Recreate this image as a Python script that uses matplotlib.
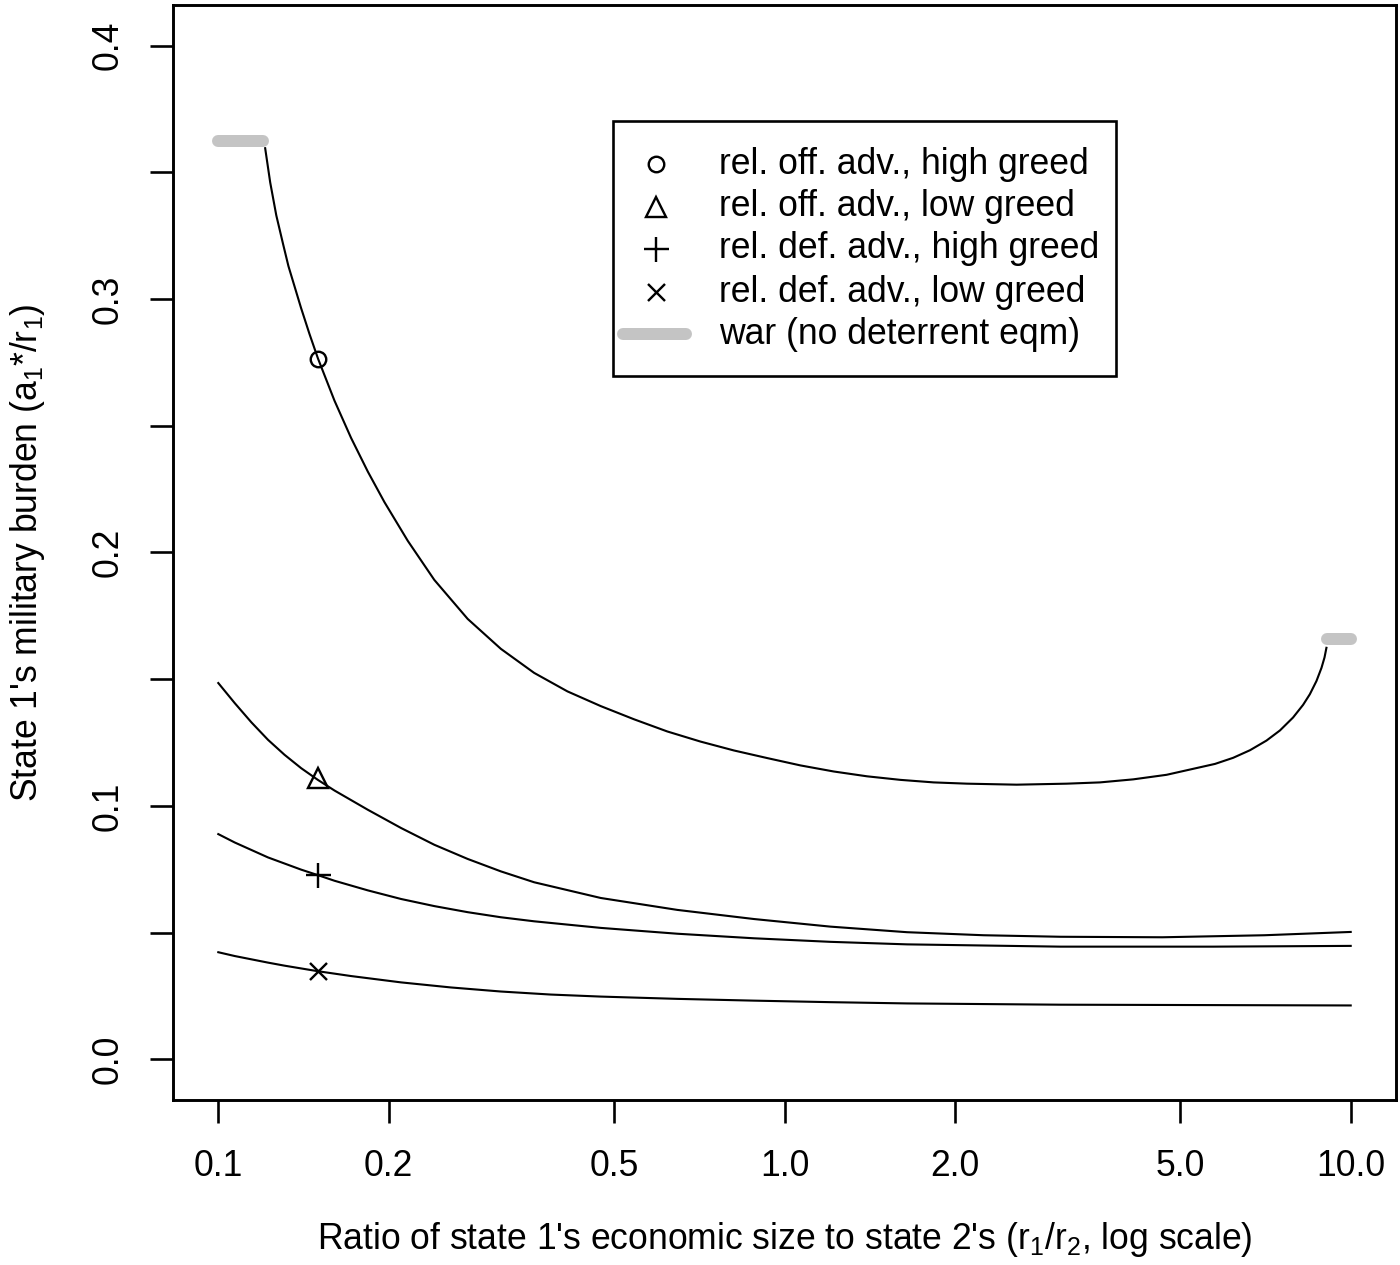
import matplotlib
matplotlib.use("Agg")
import matplotlib.pyplot as plt
from matplotlib.patches import Rectangle

plt.rcParams['font.family'] = ['Liberation Sans', 'DejaVu Sans']
plt.rcParams['mathtext.fontset'] = 'custom'
plt.rcParams['mathtext.rm'] = 'Liberation Sans'
plt.rcParams['mathtext.it'] = 'Liberation Sans:italic'

# ---------------- data ----------------
off_high_x = [0.121, 0.1235, 0.1266, 0.1302, 0.1330, 0.140, 0.1449, 0.150, 0.1604, 0.1716,
              0.1837, 0.1965, 0.2161, 0.2407, 0.2757, 0.3155, 0.3613, 0.4137, 0.4737, 0.5423,
              0.6208, 0.7108, 0.814, 0.932, 1.067, 1.222, 1.399, 1.602, 1.834, 2.100,
              2.57, 3.152, 3.607, 4.13, 4.73, 5.76, 6.20, 6.64, 7.10, 7.50,
              7.91, 8.24, 8.47, 8.70, 8.88, 8.99, 9.06]
off_high_y = [0.3595, 0.3460, 0.3330, 0.3215, 0.3130, 0.2965, 0.2862, 0.2765, 0.2599, 0.2452,
              0.2319, 0.2199, 0.2046, 0.1892, 0.1738, 0.1620, 0.1525, 0.1452, 0.1394, 0.1342,
              0.1294, 0.1254, 0.1219, 0.1189, 0.1160, 0.1136, 0.1117, 0.1103, 0.1093, 0.1088,
              0.1084, 0.1088, 0.1093, 0.1105, 0.1123, 0.1166, 0.1190, 0.1220, 0.1258, 0.1298,
              0.1349, 0.1399, 0.1441, 0.1493, 0.1545, 0.1586, 0.1624]

off_low_x = [0.1, 0.1069, 0.1144, 0.1224, 0.1309, 0.1401, 0.1499, 0.1604, 0.1837, 0.2103,
             0.2407, 0.2757, 0.3155, 0.3613, 0.4737, 0.6466, 0.883, 1.205, 1.646, 2.247,
             3.07, 4.65, 7.04, 10.0]
off_low_y = [0.1485, 0.1406, 0.1330, 0.1261, 0.1202, 0.1149, 0.1103, 0.1061, 0.0985, 0.0913,
             0.0847, 0.0791, 0.0742, 0.0699, 0.0637, 0.0590, 0.0554, 0.0524, 0.0502, 0.0490,
             0.0484, 0.0482, 0.0490, 0.0503]

def_high_x = [0.1, 0.1069, 0.1224, 0.140, 0.15, 0.1604, 0.1837, 0.2103, 0.2407, 0.2757,
              0.3155, 0.3613, 0.4737, 0.6466, 0.883, 1.205, 1.646, 3.07, 5.72, 10.0]
def_high_y = [0.0889, 0.0856, 0.0797, 0.0749, 0.0727, 0.0705, 0.0667, 0.0633, 0.0605, 0.0581,
              0.0561, 0.0545, 0.0519, 0.0496, 0.0478, 0.0464, 0.0454, 0.0445, 0.0445, 0.0448]

def_low_x = [0.1, 0.1069, 0.1224, 0.1309, 0.15, 0.1716, 0.2103, 0.2576, 0.3155, 0.3866,
             0.4737, 0.6466, 0.883, 1.205, 1.646, 3.07, 10.0]
def_low_y = [0.0423, 0.0408, 0.0382, 0.0370, 0.0348, 0.0329, 0.0304, 0.0284, 0.0268, 0.0256,
             0.0248, 0.0239, 0.0232, 0.0226, 0.0221, 0.0216, 0.0213]

marker_x = [0.15, 0.15, 0.15, 0.15]
marker_y = [0.2765, 0.1110, 0.0727, 0.0348]

war_left_x = [0.1, 0.12]
war_left_y = [0.3623, 0.3623]
war_right_x = [9.07, 10.0]
war_right_y = [0.1659, 0.1659]

x_ticks = [0.1, 0.2, 0.5, 1.0, 2.0, 5.0, 10.0]
x_ticklabels = ["0.1", "0.2", "0.5", "1.0", "2.0", "5.0", "10.0"]
y_ticks = [0.0, 0.05, 0.1, 0.15, 0.2, 0.25, 0.3, 0.35, 0.4]
y_ticklabels = ["0.0", "", "0.1", "", "0.2", "", "0.3", "", "0.4"]

legend_labels = ["rel. off. adv., high greed", "rel. off. adv., low greed",
                 "rel. def. adv., high greed", "rel. def. adv., low greed",
                 "war (no deterrent eqm)"]

# ---------------- figure ----------------
DPI = 210
W, H = 1400, 1265
FS = 12.2
fig = plt.figure(figsize=(W / DPI, H / DPI), dpi=DPI)
L, R, T, B = 173, 1396, 5, 1100
ax = fig.add_axes([L / W, 1 - B / H, (R - L) / W, (B - T) / H])

gray = '#C4C4C4'
war_lw = 12 * 72 / DPI
curve_lw = 2.1 * 72 / DPI
mk_lw = 2.4 * 72 / DPI

ax.plot(war_left_x, war_left_y, color=gray, lw=war_lw, solid_capstyle='round', zorder=1)
ax.plot(war_right_x, war_right_y, color=gray, lw=war_lw, solid_capstyle='round', zorder=1)

for xs, ys in [(off_high_x, off_high_y), (off_low_x, off_low_y),
               (def_high_x, def_high_y), (def_low_x, def_low_y)]:
    ax.plot(xs, ys, color='black', lw=curve_lw, zorder=2, solid_joinstyle='round')

marker_styles = [('o', 15.5), ('^', 19.5), ('+', 25), ('x', 17)]
for (m, sz), mx, my in zip(marker_styles, marker_x, marker_y):
    ax.plot([mx], [my], marker=m, ms=sz * 72 / DPI, mfc='none', mec='black',
            mew=mk_lw, ls='none', zorder=3)

ax.set_xscale('log')
ax.set_xlim(10 ** -1.08, 10 ** 1.08)
ax.set_ylim(-0.016, 0.416)
ax.set_xticks(x_ticks)
ax.set_xticklabels(x_ticklabels)
ax.xaxis.set_minor_locator(matplotlib.ticker.NullLocator())
ax.set_yticks(y_ticks)
ax.set_yticklabels(y_ticklabels, rotation=90, va='center')

ax.tick_params(axis='both', direction='out', length=23 * 72 / DPI, width=0.9,
               labelsize=FS)
ax.tick_params(axis='x', pad=8.9)
ax.tick_params(axis='y', pad=8.3)
for s in ax.spines.values():
    s.set_linewidth(1.0)

ax.set_xlabel("Ratio of state 1's economic size to state 2's (r$_1$/r$_2$, log scale)",
              fontsize=FS, labelpad=12.5)
ax.set_ylabel("State 1's military burden (a$_1$*/r$_1$)", fontsize=FS, labelpad=15)

# ---------------- legend (drawn in axes fraction coordinates) ----------------
def fx(px):
    return (px - L) / (R - L)

def fy(py):
    return (B - py) / (B - T)

box = Rectangle((fx(613), fy(376)), fx(1116) - fx(613), fy(121) - fy(376),
                transform=ax.transAxes, fill=False, ec='black', lw=0.9, zorder=4)
ax.add_patch(box)
row_y = [164, 207, 249, 292, 334]
for i, lab in enumerate(legend_labels):
    yy = fy(row_y[i])
    if i < 4:
        m, sz = marker_styles[i]
        ax.plot([fx(656)], [yy], marker=m, ms=sz * 72 / DPI, mfc='none', mec='black',
                mew=mk_lw, ls='none', transform=ax.transAxes, zorder=5)
    else:
        ax.plot([fx(623), fx(686)], [yy, yy], color=gray, lw=war_lw,
                solid_capstyle='round', transform=ax.transAxes, zorder=5)
    ax.text(fx(719), yy, lab, transform=ax.transAxes, fontsize=FS,
            ha='left', va='center', zorder=5)

fig.savefig("out.png", dpi=DPI)
